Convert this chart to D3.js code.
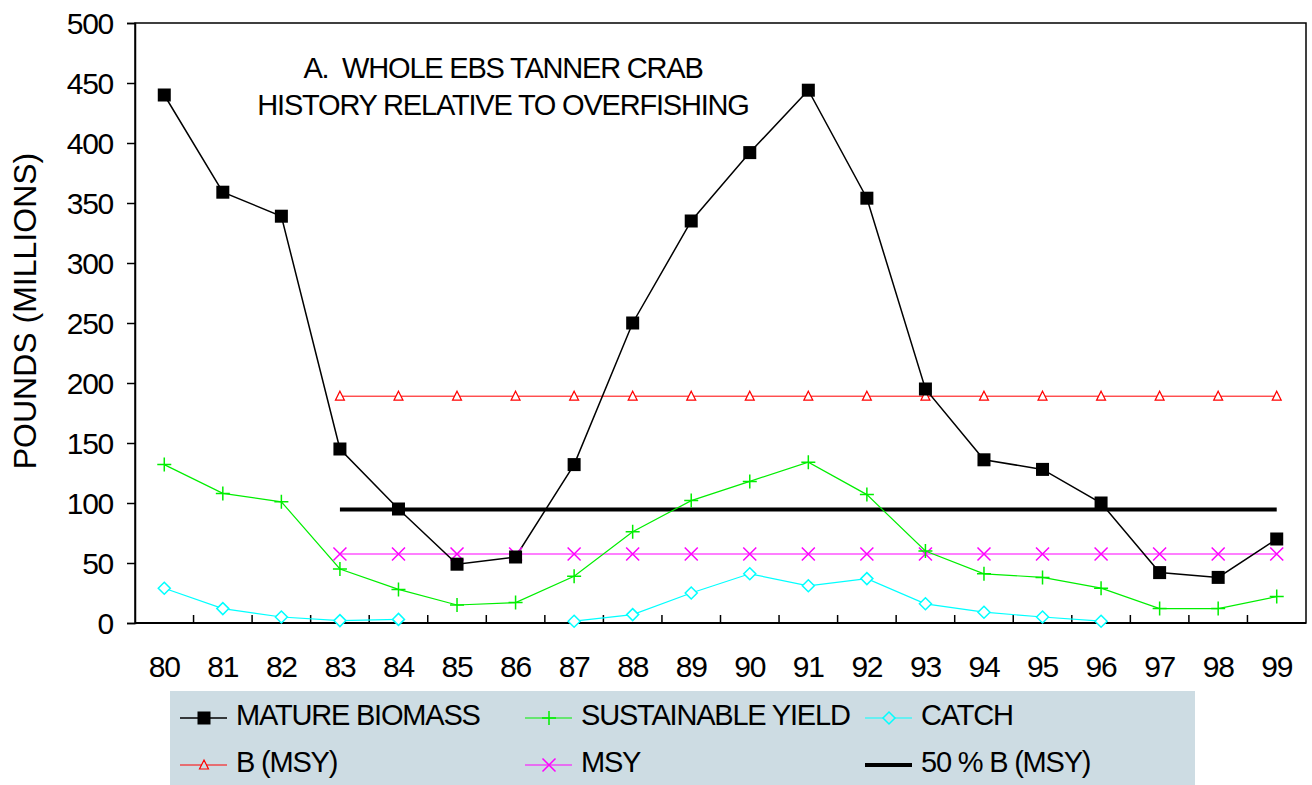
<!DOCTYPE html>
<html><head><meta charset="utf-8">
<script src="https://cdn.jsdelivr.net/npm/d3@7"></script>
<style>body{margin:0;background:#fff}svg text{font-family:"Liberation Sans",Arial,sans-serif;fill:#000}</style>
</head><body><svg id="c" width="1312" height="785"></svg>
<script>
const years = ["80","81","82","83","84","85","86","87","88","89","90","91","92","93","94","95","96","97","98","99"];
const matureBiomass = [440,359,339,145,95,49,55,132,250,335,392,444,354,195,136,128,100,42,38,70];
const sustainableYield = [132,108,101,45,28,15,17,39,76,102,118,134,107,60,41,38,29,12,12,22];
const catchVals = [29,12,5,2,3,null,null,1.5,7,25,41,31,37,16,9,5,1.5,null,null,null];
const bmsy = [null,null,null,189,189,189,189,189,189,189,189,189,189,189,189,189,189,189,189,189];
const msy = [null,null,null,57.5,57.5,57.5,57.5,57.5,57.5,57.5,57.5,57.5,57.5,57.5,57.5,57.5,57.5,57.5,57.5,57.5];
const halfBmsy = [null,null,null,94.5,94.5,94.5,94.5,94.5,94.5,94.5,94.5,94.5,94.5,94.5,94.5,94.5,94.5,94.5,94.5,94.5];
const yTicks = [0,50,100,150,200,250,300,350,400,450,500];
const titleLines = ["A.  WHOLE EBS TANNER CRAB","HISTORY RELATIVE TO OVERFISHING"];

const svg = d3.select("#c");
const L=135,R=1306,T=23,B=623;
const x = d3.scaleBand().domain(years).range([L,R]);
const y = d3.scaleLinear().domain([0,500]).range([B,T]);
const cx = d => x(d)+x.bandwidth()/2;

// frame
svg.append("rect").attr("x",L).attr("y",T).attr("width",R-L).attr("height",B-T).attr("fill","none").attr("stroke","#000").attr("stroke-width",1.5);

// y axis
const ya = svg.append("g").attr("transform",`translate(${L},0)`).call(d3.axisLeft(y).tickValues(yTicks).tickSize(8).tickPadding(14));
ya.select(".domain").attr("stroke-width",1.5);
ya.selectAll("line").attr("stroke-width",1.5);
ya.selectAll("text").attr("font-size",30).attr("font-family","Liberation Sans, Arial, sans-serif").attr("dy","0.35em").style("letter-spacing","-1.3px");

// x axis: ticks between categories, inside
const xa = svg.append("g").attr("transform",`translate(0,${B})`);
xa.append("line").attr("x1",L).attr("x2",R).attr("stroke","#000").attr("stroke-width",2);
xa.selectAll(".xt").data(years.slice(1)).join("line").attr("x1",d=>x(d)).attr("x2",d=>x(d)).attr("y1",0).attr("y2",-8).attr("stroke","#000").attr("stroke-width",1.5);
xa.selectAll(".xl").data(years).join("text").attr("x",cx).attr("y",54).attr("text-anchor","middle").attr("font-size",30).style("letter-spacing","-1.2px").text(d=>d);

// y label
svg.append("text").attr("transform","translate(36,311) rotate(-90)").attr("text-anchor","middle").attr("font-size",32).text("POUNDS (MILLIONS)");

// title
svg.selectAll(".title").data(titleLines).join("text").attr("x",503).attr("y",(d,i)=>78+i*37).attr("text-anchor","middle").attr("font-size",29).style("letter-spacing","-1.2px").style("white-space","pre").text(d=>d);

const line = d3.line().defined(d=>d.v!=null).x(d=>cx(d.k)).y(d=>y(d.v));
const toPts = arr => years.map((k,i)=>({k,v:arr[i]}));

function drawSeries(arr,color,width){
  svg.append("path").datum(toPts(arr)).attr("d",line).attr("fill","none").attr("stroke",color).attr("stroke-width",width);
}
drawSeries(halfBmsy,"#000",4);
drawSeries(bmsy,"#ff0000",1);
drawSeries(msy,"#ff00ff",1.2);
drawSeries(catchVals,"#00ffff",1.2);
drawSeries(sustainableYield,"#00ee00",1.2);
drawSeries(matureBiomass,"#000",1.5);

const markers = {
  square:(g,c)=>g.append("rect").attr("x",-6.5).attr("y",-6.5).attr("width",13).attr("height",13).attr("fill","#000"),
  plus:(g,c)=>g.append("path").attr("d","M-7,0H7M0,-7V7").attr("stroke",c).attr("stroke-width",1.5).attr("fill","none"),
  diamond:(g,c)=>g.append("path").attr("d","M0,-6L6,0L0,6L-6,0Z").attr("stroke",c).attr("stroke-width",1.5).attr("fill","#fff"),
  triangle:(g,c)=>g.append("path").attr("d","M0,-5L4.5,4L-4.5,4Z").attr("stroke",c).attr("stroke-width",1.2).attr("fill","#fff"),
  cross:(g,c)=>g.append("path").attr("d","M-6.5,-6.5L6.5,6.5M-6.5,6.5L6.5,-6.5").attr("stroke",c).attr("stroke-width",1.5).attr("fill","none")
};
function drawMarks(arr,type,color){
  toPts(arr).filter(d=>d.v!=null).forEach(d=>{
    const g = svg.append("g").attr("transform",`translate(${cx(d.k)},${y(d.v)})`);
    markers[type](g,color);
  });
}
drawMarks(bmsy,"triangle","#ff0000");
drawMarks(msy,"cross","#ff00ff");
drawMarks(catchVals,"diamond","#00ffff");
drawMarks(sustainableYield,"plus","#00ee00");
drawMarks(matureBiomass,"square","#000");

// legend
svg.append("rect").attr("x",170).attr("y",691).attr("width",1025).attr("height",100).attr("fill","#cddce3");
const legend = [
  {name:"MATURE BIOMASS",color:"#000",w:1.5,m:"square",col:0,row:0},
  {name:"SUSTAINABLE YIELD",color:"#00ee00",w:1.2,m:"plus",col:1,row:0},
  {name:"CATCH",color:"#00ffff",w:1.2,m:"diamond",col:2,row:0},
  {name:"B (MSY)",color:"#ff0000",w:1,m:"triangle",col:0,row:1},
  {name:"MSY",color:"#ff00ff",w:1.2,m:"cross",col:1,row:1},
  {name:"50 % B (MSY)",color:"#000",w:4,m:null,col:2,row:1}
];
const colX=[180,525,865], rowY=[718,765];
legend.forEach(d=>{
  const g = svg.append("g").attr("transform",`translate(${colX[d.col]},${rowY[d.row]})`);
  g.append("line").attr("x1",0).attr("x2",47).attr("stroke",d.color).attr("stroke-width",d.w);
  if(d.m){ const mg=g.append("g").attr("transform","translate(24,0)"); markers[d.m](mg,d.color); if(d.m==="diamond"||d.m==="triangle") mg.select("path").attr("fill","#cddce3"); }
  g.append("text").attr("x",56).attr("y",7).attr("font-size",29).style("letter-spacing","-1.2px").text(d.name);
});
</script></body></html>
